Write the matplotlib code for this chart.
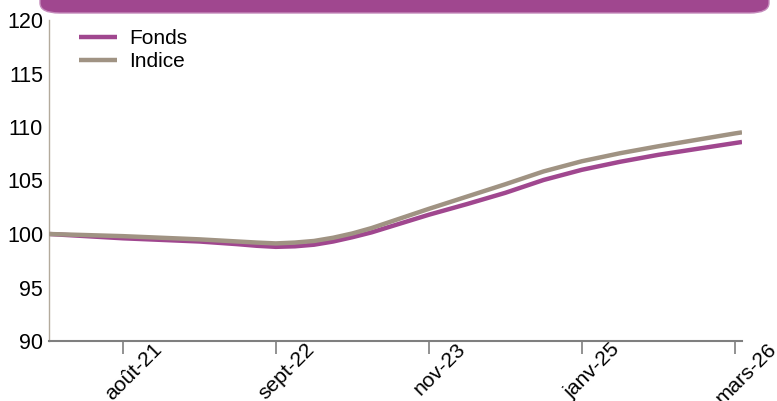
import matplotlib.pyplot as plt
from matplotlib.patches import FancyBboxPatch
import matplotlib.transforms as mtransforms

plt.rcParams['font.family'] = ['Liberation Sans', 'DejaVu Sans']

# x in months-ish units, tick spacing = 14
x = [0, 3.4, 6.75, 10.25, 13.75, 17.25, 19, 20.75, 22.5, 24.25, 26, 27.75, 29.5,
     31.25, 34.75, 38.25, 41.75, 45.25, 48.75, 52.25, 55.75, 59.25, 62.75, 63.4]
fonds = [100.0, 99.8, 99.6, 99.45, 99.3, 99.05, 98.9, 98.8, 98.85, 99.0, 99.3, 99.7, 100.15,
         100.7, 101.8, 102.8, 103.85, 105.05, 106.0, 106.75, 107.4, 107.95, 108.5, 108.6]
indice = [100.0, 99.9, 99.8, 99.65, 99.5, 99.3, 99.2, 99.12, 99.2, 99.35, 99.65, 100.05, 100.55,
          101.15, 102.35, 103.5, 104.65, 105.85, 106.8, 107.55, 108.2, 108.8, 109.4, 109.5]
tick_pos = [6.75, 20.75, 34.75, 48.75, 62.75]
tick_lab = ['août-21', 'sept-22', 'nov-23', 'janv-25', 'mars-26']

purple = '#A0478F'
taupe = '#A09383'

fig = plt.figure(figsize=(7.77, 4.01), dpi=100)
ax = fig.add_axes([49/777, 60/401, 693/777, 321/401])

# banner at top
banner = FancyBboxPatch((40/777, 1 - 13/401), 729/777, 0.08,
                        boxstyle='round,pad=0,rounding_size=0.025',
                        transform=fig.transFigure, facecolor=purple,
                        edgecolor='#C48ABB', linewidth=1, clip_on=False)
fig.patches.append(banner)

ax.plot(x, indice, color=taupe, lw=3.2, label='Indice', solid_capstyle='butt',
        solid_joinstyle='round', zorder=3)
ax.plot(x, fonds, color=purple, lw=3.2, label='Fonds', solid_capstyle='butt',
        solid_joinstyle='round', zorder=2)

ax.set_xlim(0, 63.4)
ax.set_ylim(90, 120)
ax.set_yticks(range(90, 121, 5))
ax.set_xticks(tick_pos)
ax.set_xticklabels(tick_lab, rotation=45, ha='center', va='top')

ax.tick_params(axis='x', length=9.5, width=1.2, color='#7f7f7f', pad=-10.5, labelsize=15.2)
ax.tick_params(axis='y', length=0, pad=4.3, labelsize=15.5)

offset = mtransforms.ScaledTranslation(11/100, 0, fig.dpi_scale_trans)
for lab in ax.get_xticklabels():
    lab.set_transform(lab.get_transform() + offset)

for s in ['top', 'right']:
    ax.spines[s].set_visible(False)
ax.spines['left'].set_color('#B3AA9C')
ax.spines['left'].set_linewidth(1)
ax.spines['bottom'].set_color('#7f7f7f')
ax.spines['bottom'].set_linewidth(1.5)

h, l = ax.get_legend_handles_labels()
ax.legend([h[1], h[0]], [l[1], l[0]], loc='upper left', bbox_to_anchor=(0.025, 1.01),
          frameon=False, fontsize=15, handlelength=1.85, handletextpad=0.55,
          labelspacing=0.2, borderaxespad=0.2)

fig.savefig('out.png', dpi=100)
